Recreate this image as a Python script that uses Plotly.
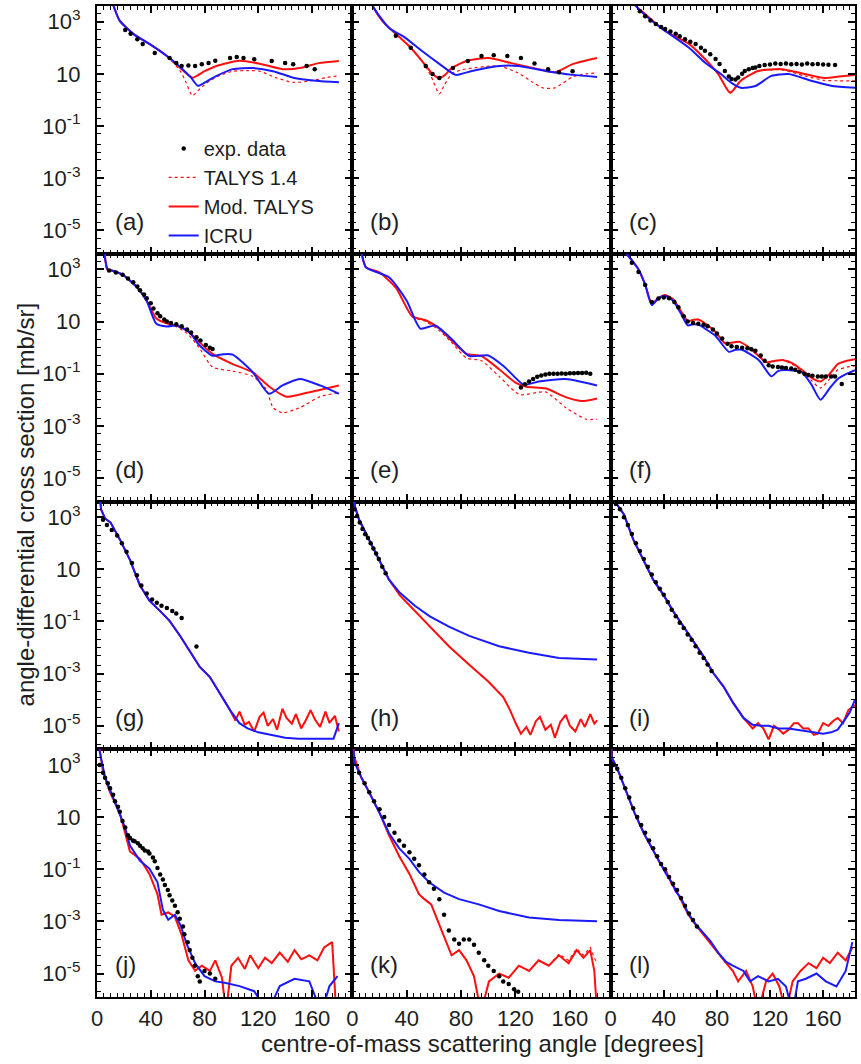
import plotly.graph_objects as go
from plotly.subplots import make_subplots

# Angle-differential elastic cross sections, 12 panels (a)-(l).
# Angles are centre-of-mass scattering angles in degrees, values in mb/sr.

# ---------------- (a) ----------------
A_EXP_X = [21, 25, 30, 34, 43, 54, 59, 63, 68, 73, 78, 83, 88, 99, 104, 109, 117, 130, 140, 146, 156, 162]
A_EXP_Y = [4.8e2, 3.4e2, 2.1e2, 1.4e2, 63, 40, 26, 20, 21, 20, 23, 26, 32, 40, 44, 40, 36, 31, 26, 23, 20, 15]
A_T14_X = [5, 9, 13, 17, 27, 39, 52, 62, 66, 71, 77, 84, 92, 101, 112, 121, 133, 146, 160, 170, 180]
A_T14_Y = [1e5, 1.6e4, 3.2e3, 1.07e3, 3.4e2, 1.4e2, 48, 12.6, 5.0, 1.45, 2.8, 5.4, 8.9, 12.6, 13.2, 12.6, 7.1, 4.7, 5.4, 7.1, 8.3]
A_MOD_X = [5, 9, 13, 17, 27, 39, 52, 62, 71, 80, 89, 106, 121, 138, 151, 165, 180]
A_MOD_Y = [1e5, 1.6e4, 3.2e3, 1.07e3, 3.4e2, 1.4e2, 48, 16.6, 7.1, 12.6, 20, 31.6, 24.5, 15.1, 16.6, 25.7, 30.9]
A_ICRU_X = [5, 9, 13, 17, 27, 39, 52, 62, 70, 75, 82, 89, 101, 116, 131, 146, 163, 180]
A_ICRU_Y = [1e5, 1.6e4, 3.2e3, 1.07e3, 3.4e2, 1.4e2, 48, 17.8, 7.1, 3.47, 5.25, 8.3, 15.1, 16.6, 12.6, 7.1, 5.4, 4.7]

# ---------------- (b) ----------------
B_EXP_X = [32, 43, 54, 59, 64, 74, 85, 95, 104, 114, 124, 134, 144, 152, 162]
B_EXP_Y = [2.9e2, 1.0e2, 20, 9.8, 6.9, 16.6, 31, 48, 52, 48, 40, 25, 15, 11.5, 12.6]
B_T14_X = [5, 10, 15, 22, 32, 43, 53, 58, 64, 68, 73, 80, 88, 98, 108, 122, 132, 140, 149, 162, 172, 180]
B_T14_Y = [1e5, 2e4, 4e3, 1.07e3, 3.4e2, 1e2, 22, 7.9, 1.7, 4.0, 9.8, 14.1, 16.6, 19, 20, 10.7, 5.0, 2.9, 2.9, 7.6, 10, 10.7]
B_MOD_X = [5, 10, 15, 22, 32, 43, 53, 59, 64, 68, 73, 84, 100, 117, 137, 149, 162, 180]
B_MOD_Y = [1e5, 2e4, 4e3, 1.07e3, 3.4e2, 1e2, 24, 9.8, 6.9, 8.9, 16.6, 31, 40, 25.7, 15.1, 11.5, 23.4, 40]
B_ICRU_X = [5, 10, 15, 27, 39, 51, 64, 76, 88, 108, 122, 142, 162, 180]
B_ICRU_Y = [1e5, 2e4, 4e3, 5.75e2, 2.4e2, 76, 24, 9.1, 12.9, 20, 20, 12.9, 9.1, 7.6]

# ---------------- (c) ----------------
C_EXP_X = [22, 26, 30, 34, 38, 41, 45, 49, 52, 56, 60, 64, 68, 71, 75, 79, 82, 86, 89, 91, 94,
           96, 99, 101, 104, 107, 109, 112, 116, 120, 124, 128, 132, 136, 140, 144, 148, 152,
           156, 160, 164, 169]
C_EXP_Y = [2.5e3, 1.6e3, 1.1e3, 8.1e2, 6.3e2, 5.2e2, 4.2e2, 3.4e2, 2.75e2, 2.1e2, 1.7e2, 1.4e2,
           1e2, 76, 56, 37, 24, 12.9, 7.9, 6.3, 6.0, 7.2, 10, 12.9, 15.1, 16.6, 17.4, 20, 21.9,
           22.9, 25, 24, 25, 23.4, 24, 22.9, 25, 23.4, 24, 22.9, 22.4, 21.9]
C_T14_X = [8, 14, 19, 26, 41, 59, 71, 81, 90, 98, 111, 129, 146, 161, 172, 184]
C_T14_Y = [1e5, 1.26e4, 4e3, 1.95e3, 4.4e2, 1.4e2, 37, 9.8, 2.0, 5.6, 12.6, 14.1, 8.3, 5.6, 5.4, 5.4]
C_MOD_X = [8, 14, 19, 26, 41, 59, 71, 81, 90, 98, 111, 129, 146, 161, 172, 184]
C_MOD_Y = [1e5, 1.26e4, 4e3, 1.95e3, 4.4e2, 1.4e2, 37, 9.8, 1.86, 5.4, 12.9, 15.1, 9.8, 6.9, 7.9, 9.1]
C_ICRU_X = [8, 14, 19, 34, 59, 71, 83, 91, 98, 109, 121, 134, 151, 166, 184]
C_ICRU_Y = [1e5, 1.26e4, 4e3, 8.1e2, 1e2, 27, 9.8, 4.5, 2.9, 3.4, 8.3, 9.8, 5.4, 3.5, 2.9]

# ---------------- (d) ----------------
D_EXP_X = [9, 14, 19, 23, 27, 30, 32, 35, 37, 40, 42, 45, 47, 50, 52, 55, 59, 63, 67, 70, 74, 77, 81, 84, 86]
D_EXP_Y = [9.1e2, 7.6e2, 6.3e2, 4.5e2, 3.2e2, 2.2e2, 1.6e2, 1.1e2, 79, 50, 32, 21, 15.8, 12, 10,
           8.9, 7.9, 6.6, 5.0, 3.8, 2.5, 1.86, 1.26, 1.0, 0.89]
D_T14_X = [2, 5.5, 7.5, 11, 19, 30, 37, 44, 52, 59, 67, 76, 86, 101, 116, 126, 131, 138, 151, 166, 180]
D_T14_Y = [3.2e4, 5e3, 1e3, 9.1e2, 6.3e2, 2e2, 62, 13.5, 8.5, 6.3, 3.55, 1.0, 0.178, 0.126, 0.079,
           0.0251, 5.0e-3, 3.16e-3, 5.0e-3, 0.0132, 0.0186]
D_MOD_X = [2, 5.5, 7.5, 11, 19, 30, 37, 44, 52, 59, 67, 76, 86, 101, 116, 128, 141, 156, 180]
D_MOD_Y = [3.2e4, 5e3, 1e3, 9.1e2, 6.3e2, 2e2, 62, 13.5, 8.5, 7.1, 4.6, 1.66, 0.575, 0.234, 0.112,
           0.0324, 0.0132, 0.0186, 0.0355]
D_ICRU_X = [2, 5, 8, 11, 19, 30, 37, 44, 52, 59, 69, 76, 86, 94, 101, 116, 128, 138, 151, 166, 180]
D_ICRU_Y = [4e4, 5e3, 1e3, 9.1e2, 6.3e2, 2e2, 62, 8.5, 6.5, 7.1, 3.8, 1.26, 0.49, 0.56, 0.54, 0.112,
            0.017, 0.0355, 0.063, 0.0355, 0.017]

# ---------------- (e) ----------------
E_EXP_X = [124, 127, 130, 133, 136, 139, 142, 145, 148, 151, 154, 157, 160, 163, 166, 169, 172, 175]
E_EXP_Y = [0.0295, 0.0398, 0.05, 0.063, 0.076, 0.085, 0.093, 0.1, 0.1, 0.1, 0.102, 0.1, 0.105,
           0.105, 0.107, 0.107, 0.11, 0.1]
E_T14_X = [3, 6.6, 10, 20, 32, 44, 54, 64, 73, 84, 95, 108, 123, 142, 157, 172, 180]
E_T14_Y = [3.2e4, 4.6e3, 1.2e3, 7.6e2, 2e2, 15.8, 10, 4.5, 1.58, 0.398, 0.316, 0.079, 0.0158,
           0.02, 5.0e-3, 1.8e-3, 1.8e-3]
E_MOD_X = [3, 6.6, 10, 20, 32, 44, 54, 64, 73, 84, 95, 108, 120, 128, 142, 157, 169, 180]
E_MOD_Y = [3.2e4, 4.6e3, 1.2e3, 7.6e2, 2e2, 15.8, 11.2, 5.4, 1.86, 0.575, 0.479, 0.148, 0.0457,
           0.0316, 0.0275, 0.0126, 8.9e-3, 0.0112]
E_ICRU_X = [3, 6.6, 10, 27, 40, 50, 61, 73, 86, 100, 112, 126, 137, 157, 180]
E_ICRU_Y = [3.2e4, 4.6e3, 1.2e3, 5e2, 63, 5.4, 7.1, 2.14, 0.479, 0.5, 0.182, 0.038, 0.05, 0.063, 0.0355]

# ---------------- (f) ----------------
F_EXP_X = [16, 21, 26, 31, 36, 40, 44, 48, 51, 55, 58, 62, 66, 70, 73, 77, 80, 84, 88, 91, 95,
           99, 103, 106, 109, 113, 116, 119, 122, 126, 129, 132, 136, 139, 142, 146, 149, 152,
           156, 159, 162, 166, 169, 174]
F_EXP_Y = [1.8e3, 7.9e2, 2.5e2, 56, 76, 83, 79, 56, 35, 15.8, 10, 8.9, 8.3, 7.6, 6.6, 5.0, 3.5,
           2.24, 1.41, 1.12, 1.05, 1.0, 0.95, 0.87, 0.76, 0.5, 0.316, 0.209, 0.19, 0.182, 0.174,
           0.166, 0.158, 0.141, 0.12, 0.1, 0.089, 0.083, 0.079, 0.079, 0.079, 0.079, 0.079, 0.04]
F_T14_X = [5, 10, 16, 21, 26, 31, 36, 41, 47, 53, 58, 62, 66, 72, 79, 86, 92, 97, 103, 110, 117,
           124, 130, 137, 144, 151, 158, 165, 171, 178, 184]
F_T14_Y = [4e4, 5.5e3, 2.24e3, 1e3, 2.6e2, 49, 79, 1.05e2, 71, 25, 10.5, 11.5, 12, 7.9, 4.0, 1.48,
           1.58, 1.66, 1.12, 0.56, 0.28, 0.316, 0.331, 0.224, 0.126, 0.0562, 0.0282, 0.063, 0.141,
           0.178, 0.2]
F_MOD_X = [5, 10, 16, 21, 26, 31, 36, 41, 47, 53, 58, 62, 66, 72, 79, 86, 92, 97, 103, 110, 117,
           124, 130, 137, 144, 151, 158, 165, 171, 178, 184]
F_MOD_Y = [4e4, 5.5e3, 2.24e3, 1e3, 2.6e2, 49, 79, 1.05e2, 71, 25, 10.5, 11.5, 12, 7.9, 4.0, 1.48,
           1.58, 1.66, 1.12, 0.56, 0.28, 0.316, 0.331, 0.251, 0.141, 0.0708, 0.05, 0.1, 0.234,
           0.316, 0.363]
F_ICRU_X = [5, 10, 16, 21, 26, 31, 36, 41, 47, 53, 58, 62, 66, 72, 79, 89, 94, 99, 105, 112, 121,
            126, 131, 138, 144, 151, 158, 165, 171, 178, 184]
F_ICRU_Y = [4e4, 5.5e3, 2.24e3, 1e3, 2.6e2, 43, 79, 95, 63, 20, 7.1, 7.9, 7.6, 5, 2.8, 0.69, 0.83,
            0.83, 0.56, 0.316, 0.079, 0.126, 0.138, 0.132, 0.112, 0.04, 0.01, 0.028, 0.063, 0.1,
            0.138]

# ---------------- (g) ----------------
G_EXP_X = [4.5, 7.4, 11, 15, 18.5, 22, 26, 29.7, 33, 37, 41, 44.5, 48, 52, 56, 59, 63, 74]
G_EXP_Y = [7.9e2, 5e2, 3.2e2, 2e2, 1e2, 47, 17.4, 5.9, 2.4, 1.17, 0.69, 0.52, 0.4, 0.33, 0.25,
           0.2, 0.135, 0.011]
G_MOD_X = [1, 3, 6, 10, 17, 24.5, 32, 39, 47, 54, 62, 69, 76.5, 84, 91, 99, 103, 106, 110, 113,
           117, 121, 124, 127, 131, 134, 138, 141, 145, 148, 152, 155, 159, 162, 166, 170, 173,
           177, 180]
G_MOD_Y = [3.2e4, 2e3, 8.9e2, 6.3e2, 1.4e2, 23, 2.4, 0.63, 0.25, 0.105, 0.027, 6.9e-3, 1.8e-3,
           7.4e-4, 1.9e-4, 4.0e-5, 1.6e-5, 3.5e-5, 1.1e-5, 1.4e-5, 6e-6, 2.2e-5, 3.2e-5, 1.0e-5,
           1.8e-5, 7e-6, 4.5e-5, 2e-5, 1.2e-5, 2.8e-5, 8e-6, 1.5e-5, 4e-5, 1.8e-5, 9e-6, 3.5e-5,
           1.3e-5, 2.4e-5, 6e-6]
# TALYS 1.4 lies on top of the modified calculation in (g)-(j) and (l)
G_T14_X = G_MOD_X
G_T14_Y = G_MOD_Y
G_ICRU_X = [1, 3, 6, 10, 17, 24.5, 32, 39, 47, 54, 62, 69, 76.5, 84, 91, 99, 106, 112, 120, 130,
            140, 150, 160, 170, 176, 180]
G_ICRU_Y = [3.2e4, 2e3, 8.9e2, 6.3e2, 1.4e2, 23, 2.4, 0.63, 0.25, 0.105, 0.027, 6.9e-3, 1.8e-3,
            7.4e-4, 1.9e-4, 4.0e-5, 1.26e-5, 7.9e-6, 5.6e-6, 4.5e-6, 3.5e-6, 3.2e-6, 3.2e-6,
            3.2e-6, 3.2e-6, 1.26e-5]

# ---------------- (h) ----------------
H_EXP_X = [1.5, 3.5, 5.5, 7.5, 9.5, 11.5, 13.5, 15.5, 17.5, 19.5, 22, 24.5]
H_EXP_Y = [2e3, 1.1e3, 6.3e2, 3.5e2, 2.2e2, 1.6e2, 1e2, 63, 40, 25, 12.6, 7.1]
H_MOD_X = [0.5, 2, 5, 12.5, 20, 27, 35, 46, 57, 71, 86, 100, 111, 116, 120, 124, 128, 131, 135,
           138, 142, 146, 149, 153, 157, 160, 164, 168, 171, 175, 178, 180]
H_MOD_Y = [1e4, 2.5e3, 7.9e2, 1.26e2, 22, 4.0, 1.0, 0.25, 0.063, 0.0112, 2.2e-3, 5e-4, 1.26e-4,
           4e-5, 1.3e-5, 5e-6, 9e-6, 4.5e-6, 1.5e-5, 2.2e-5, 7e-6, 1.1e-5, 3.5e-6, 1.4e-5, 2.6e-5,
           1e-5, 6e-6, 1.8e-5, 9e-6, 2.8e-5, 1.2e-5, 1.6e-5]
H_T14_X = H_MOD_X
H_T14_Y = H_MOD_Y
H_ICRU_X = [0.5, 2, 5, 12.5, 20, 27, 35, 46, 57, 71, 86, 108, 130, 152, 180]
H_ICRU_Y = [1e4, 2.5e3, 7.9e2, 1.26e2, 22, 4.0, 1.26, 0.4, 0.158, 0.063, 0.028, 0.0112, 6.3e-3,
            4.0e-3, 3.5e-3]

# ---------------- (i) ----------------
I_EXP_X = [4, 7, 10, 13, 16, 19, 22, 25, 28, 31, 34, 37, 40, 43, 46, 49, 52, 55, 58, 61, 64, 67, 70, 73, 76]
I_EXP_Y = [3.2e3, 2e3, 1e3, 5e2, 2.24e2, 1e2, 50, 25, 12.6, 6.3, 3.2, 1.78, 1.05, 0.56, 0.28,
           0.158, 0.089, 0.056, 0.0316, 0.02, 0.0112, 6.3e-3, 4e-3, 2.24e-3, 1.26e-3]
I_MOD_X = [0.5, 2, 6, 10, 17, 25, 32, 40, 47, 55, 62, 70, 77, 85, 92, 100, 107, 111, 115, 119, 123,
           126, 130, 134, 138, 141, 145, 149, 153, 156, 160, 164, 168, 171, 175, 179, 184]
I_MOD_Y = [1.6e4, 5e3, 2.5e3, 1.26e3, 1.4e2, 22, 4.0, 1.0, 0.25, 0.063, 0.0178, 4.5e-3, 1.1e-3,
           3.2e-4, 7.9e-5, 2e-5, 7.9e-6, 1.26e-5, 7.9e-6, 3e-6, 1e-5, 7.9e-6, 5e-6, 7.1e-6,
           1.26e-5, 1.26e-5, 7.9e-6, 7.9e-6, 4.5e-6, 5e-6, 1.26e-5, 1e-5, 1.6e-5, 2e-5, 1.26e-5,
           4e-5, 6.3e-5]
I_T14_X = I_MOD_X
I_T14_Y = I_MOD_Y
I_ICRU_X = [0.5, 2, 6, 10, 17, 25, 32, 40, 47, 55, 62, 70, 77, 85, 92, 100, 107, 113, 119, 126,
            134, 141, 149, 155, 160, 166, 171, 176, 180, 184]
I_ICRU_Y = [1.6e4, 5e3, 2.5e3, 1.26e3, 1.4e2, 22, 4.0, 1.0, 0.25, 0.063, 0.0178, 4.5e-3, 1.1e-3,
            3.2e-4, 7.9e-5, 2e-5, 1.1e-5, 1e-5, 1e-5, 7.9e-6, 7.9e-6, 7.1e-6, 6.3e-6, 5.6e-6,
            5e-6, 5.6e-6, 7.1e-6, 1.6e-5, 3.2e-5, 1e-4]

# ---------------- (j) ----------------
J_EXP_X = [2, 4.5, 6, 8, 9.7, 12, 13.4, 15.6, 17, 19, 21, 23, 24.5, 26.7, 28, 30.4, 32, 34, 35.6,
           38, 39, 41.6, 43, 45, 47, 49, 50.5, 52.7, 54, 56, 58, 60, 61.6, 64, 65, 67.5, 69, 71,
           72.8, 75, 76.5, 80, 84, 88]
J_EXP_Y = [1e3, 5e2, 3.2e2, 2e2, 1.26e2, 71, 40, 25, 15.8, 7.1, 4.0, 2.0, 1.58, 1.26, 1.17, 1.0,
           0.79, 0.63, 0.52, 0.48, 0.4, 0.28, 0.2, 0.112, 0.063, 0.04, 0.025, 0.0158, 0.01,
           6.3e-3, 4e-3, 2.24e-3, 1.26e-3, 6.3e-4, 3.2e-4, 1.58e-4, 7.9e-5, 4e-5, 2e-5, 7.9e-6,
           5e-6, 1.26e-5, 1e-5, 6.3e-6]
J_MOD_X = [1, 2, 4.5, 9.7, 17, 21, 24.5, 32, 39, 45, 48, 53, 58, 63, 68, 73, 78, 84, 88, 93, 96,
           100, 105, 110, 114, 120, 125, 130, 136, 142, 147, 152, 158, 164, 169, 175, 178, 180]
J_MOD_Y = [3.2e4, 4e3, 5.4e2, 89, 14.5, 2.4, 0.48, 0.25, 0.066, 0.011, 1.8e-3, 2.2e-3, 1.5e-3,
           3e-4, 3.2e-5, 1.26e-5, 2e-5, 1.26e-5, 3.2e-5, 6.9e-6, 3.2e-7, 2e-5, 4e-5, 1.5e-5, 5e-5,
           1.6e-5, 4e-5, 2.5e-5, 6.3e-5, 2.8e-5, 7.9e-5, 3.5e-5, 5e-5, 3.2e-5, 1e-4, 1.6e-4,
           3.2e-7, 3.2e-7]
J_T14_X = J_MOD_X
J_T14_Y = J_MOD_Y
J_ICRU_X = [1, 2, 6, 13.4, 21, 24.5, 32, 39, 45, 49, 53, 58, 62, 67, 73, 80, 88, 95, 106, 117,
            127, 136, 147, 158, 167, 173, 179]
J_ICRU_Y = [3.2e4, 3.2e3, 3.4e2, 35, 3.8, 0.81, 0.21, 0.105, 0.0316, 2.8e-3, 1.15e-3, 1.8e-3,
            7.4e-4, 1.26e-4, 2.5e-5, 7.9e-6, 5e-6, 4.4e-6, 3.3e-6, 2.1e-6, 3.2e-7, 3.3e-6, 6.3e-6,
            5e-6, 3.2e-7, 3.3e-6, 7.9e-6]

# ---------------- (k) ----------------
K_EXP_X = [5, 9, 12.5, 16, 20, 23.5, 27, 31, 34.5, 38, 42, 45.5, 49, 53, 56.5, 60, 64, 67.5, 71,
           75, 78.5, 82, 86, 89.5, 93, 97, 100, 104, 108, 111, 115, 119, 122]
K_EXP_Y = [5e2, 2e2, 89, 40, 20, 10, 5.0, 2.5, 1.26, 0.79, 0.45, 0.25, 0.141, 0.063, 0.0316,
           0.0178, 7.1e-3, 1.8e-3, 4.5e-4, 2e-4, 1.4e-4, 2e-4, 2e-4, 1.26e-4, 6.3e-5, 3.2e-5,
           2e-5, 1.26e-5, 7.9e-6, 5e-6, 4e-6, 2.5e-6, 2e-6]
K_T14_X = [0.5, 1.5, 6.6, 12.5, 20, 27, 34.5, 42, 49, 53, 58, 64, 69, 73, 78.5, 84, 89.5, 94.6,
           100.5, 108, 115, 122.5, 130, 137, 144.5, 152, 159, 165, 170, 175, 178, 180]
K_T14_Y = [1e4, 2e3, 3.2e2, 89, 14.5, 2.0, 0.316, 0.066, 0.011, 7.1e-3, 4.5e-3, 7.4e-4, 1.45e-4,
           5e-5, 7.9e-5, 3.2e-5, 7.9e-6, 3.2e-7, 5e-6, 1e-5, 6.9e-6, 2e-5, 1.26e-5, 3.2e-5, 2e-5,
           5.6e-5, 3.2e-5, 8.9e-5, 5e-5, 1e-4, 4e-5, 2.5e-5]
K_MOD_X = [0.5, 1.5, 6.6, 12.5, 20, 27, 34.5, 42, 49, 53, 58, 64, 69, 73, 78.5, 84, 89.5, 94.6,
           100.5, 108, 115, 122.5, 130, 137, 144.5, 152, 159, 165, 170, 175, 178, 180]
K_MOD_Y = [1e4, 2e3, 3.2e2, 89, 14.5, 2.0, 0.316, 0.066, 0.011, 7.1e-3, 4.5e-3, 7.4e-4, 1.45e-4,
           5e-5, 7.9e-5, 3.2e-5, 7.9e-6, 3.2e-7, 5e-6, 1e-5, 6.9e-6, 2e-5, 1.26e-5, 3.2e-5, 2e-5,
           5e-5, 2.5e-5, 7.9e-5, 4e-5, 7.9e-5, 1.26e-5, 3.2e-7]
K_ICRU_X = [0.5, 1.5, 6.6, 12.5, 20, 27, 34.5, 42, 49, 56.5, 67.5, 78.5, 93, 108, 130, 152, 180]
K_ICRU_Y = [6.3e3, 1.26e3, 3.4e2, 89, 14.5, 2.4, 0.63, 0.25, 0.079, 0.0316, 0.0126, 7.1e-3,
            4.5e-3, 2.5e-3, 1.4e-3, 1.12e-3, 1e-3]

# ---------------- (l) ----------------
L_EXP_X = [2, 5, 8, 11, 14, 17, 20, 23, 26, 29, 32, 35, 38, 41, 44, 47, 50, 53, 56, 59, 62, 65]
L_EXP_Y = [1e3, 7.1e2, 3.2e2, 1.26e2, 56, 22, 10, 5, 2.5, 1.26, 0.63, 0.316, 0.158, 0.1, 0.05,
           0.028, 0.0158, 7.9e-3, 4e-3, 2e-3, 1.12e-3, 6.3e-4]
L_MOD_X = [0.3, 0.75, 6, 12, 18, 25, 32.3, 37.5, 42, 46, 49, 53, 58.5, 64, 70, 75, 81, 87, 92, 96,
           102, 107, 111, 117, 122, 127, 132, 137, 143, 149, 155, 160, 165, 171, 177, 182]
L_MOD_Y = [1e4, 2e3, 5.4e2, 89, 14.5, 2.4, 0.48, 0.158, 0.079, 0.027, 0.017, 6.9e-3, 1.8e-3,
           7.4e-4, 3e-4, 1.45e-4, 5.9e-5, 2.5e-5, 1.26e-5, 5e-6, 1.26e-5, 3.2e-6, 3.2e-7, 5e-6,
           1e-5, 3.2e-6, 3.2e-7, 5e-6, 1.26e-5, 2.5e-5, 1.6e-5, 4e-5, 2.5e-5, 6.3e-5, 3.2e-5, 1e-4]
L_T14_X = L_MOD_X
L_T14_Y = L_MOD_Y
L_ICRU_X = [0.3, 0.75, 6, 12, 18, 25, 32.3, 37.5, 42, 46, 49, 53, 58.5, 64, 70, 75, 81, 87, 92,
            100, 105, 111, 119, 126, 132, 137, 141, 147, 155, 162, 170, 177, 182]
L_ICRU_Y = [1e4, 2e3, 5.4e2, 89, 14.5, 2.4, 0.48, 0.158, 0.063, 0.0316, 0.0141, 7.9e-3, 2e-3,
            7.9e-4, 3.5e-4, 1.8e-4, 6.3e-5, 2.8e-5, 2e-5, 1.26e-5, 5e-6, 7.9e-6, 5e-6, 6.3e-6,
            3.2e-6, 3.2e-7, 5e-6, 6.3e-6, 1e-5, 5e-6, 3.2e-6, 1.26e-5, 1.6e-4]

# Panel letters, laid out row by row
PANEL_LETTERS = ["a", "b", "c", "d", "e", "f", "g", "h", "i", "j", "k", "l"]
SERIES_NAMES = ["exp. data", "TALYS 1.4", "Mod. TALYS", "ICRU"]
X_TICKS = [0, 40, 80, 120, 160]
Y_EXPONENTS = [-5, -3, -1, 1, 3]

PANELS = [
    (A_EXP_X, A_EXP_Y, A_T14_X, A_T14_Y, A_MOD_X, A_MOD_Y, A_ICRU_X, A_ICRU_Y),
    (B_EXP_X, B_EXP_Y, B_T14_X, B_T14_Y, B_MOD_X, B_MOD_Y, B_ICRU_X, B_ICRU_Y),
    (C_EXP_X, C_EXP_Y, C_T14_X, C_T14_Y, C_MOD_X, C_MOD_Y, C_ICRU_X, C_ICRU_Y),
    (D_EXP_X, D_EXP_Y, D_T14_X, D_T14_Y, D_MOD_X, D_MOD_Y, D_ICRU_X, D_ICRU_Y),
    (E_EXP_X, E_EXP_Y, E_T14_X, E_T14_Y, E_MOD_X, E_MOD_Y, E_ICRU_X, E_ICRU_Y),
    (F_EXP_X, F_EXP_Y, F_T14_X, F_T14_Y, F_MOD_X, F_MOD_Y, F_ICRU_X, F_ICRU_Y),
    (G_EXP_X, G_EXP_Y, G_T14_X, G_T14_Y, G_MOD_X, G_MOD_Y, G_ICRU_X, G_ICRU_Y),
    (H_EXP_X, H_EXP_Y, H_T14_X, H_T14_Y, H_MOD_X, H_MOD_Y, H_ICRU_X, H_ICRU_Y),
    (I_EXP_X, I_EXP_Y, I_T14_X, I_T14_Y, I_MOD_X, I_MOD_Y, I_ICRU_X, I_ICRU_Y),
    (J_EXP_X, J_EXP_Y, J_T14_X, J_T14_Y, J_MOD_X, J_MOD_Y, J_ICRU_X, J_ICRU_Y),
    (K_EXP_X, K_EXP_Y, K_T14_X, K_T14_Y, K_MOD_X, K_MOD_Y, K_ICRU_X, K_ICRU_Y),
    (L_EXP_X, L_EXP_Y, L_T14_X, L_T14_Y, L_MOD_X, L_MOD_Y, L_ICRU_X, L_ICRU_Y),
]

FONT = "Liberation Sans, Arial, Helvetica, sans-serif"
INK = "#1e1e1e"
RED = "#ff1010"
BLUE = "#1a1aff"

# column pixel widths (the right-hand column is narrower)
COL_WIDTHS = [256, 259, 245]
COL_XMAX = [190, 190, 184]

fig = make_subplots(rows=4, cols=3, column_widths=COL_WIDTHS,
                    horizontal_spacing=0, vertical_spacing=0)

y_vals = [10.0 ** e for e in Y_EXPONENTS]
y_text = ["10" if e == 1 else "10<sup>%d</sup>" % e for e in Y_EXPONENTS]
# minor ticks: every unlabelled decade plus 2x and 5x subdivisions
y_minor = [m * 10.0 ** e for e in range(-6, 4) for m in (1, 2, 5) if not (m == 1 and e in Y_EXPONENTS)]

for idx, (ex, ey, tx, ty, mx, my, ix, iy) in enumerate(PANELS):
    row, col = idx // 3 + 1, idx % 3 + 1
    first = idx == 0
    # smooth model curves in the upper rows, point-to-point in the noisy lower rows
    shape = "spline" if row <= 2 else "linear"
    fig.add_trace(go.Scatter(x=tx, y=ty, mode="lines", name=SERIES_NAMES[1],
                             line=dict(color=RED, width=1.2, dash="dot", shape=shape, smoothing=0.6),
                             showlegend=first, legendrank=2, hoverinfo="skip"), row=row, col=col)
    fig.add_trace(go.Scatter(x=mx, y=my, mode="lines", name=SERIES_NAMES[2],
                             line=dict(color=RED, width=2, shape=shape, smoothing=0.6),
                             showlegend=first, legendrank=3, hoverinfo="skip"), row=row, col=col)
    fig.add_trace(go.Scatter(x=ix, y=iy, mode="lines", name=SERIES_NAMES[3],
                             line=dict(color=BLUE, width=2, shape=shape, smoothing=0.6),
                             showlegend=first, legendrank=4, hoverinfo="skip"), row=row, col=col)
    fig.add_trace(go.Scatter(x=ex, y=ey, mode="markers", name=SERIES_NAMES[0],
                             marker=dict(color="black", size=4.5),
                             showlegend=first, legendrank=1, hoverinfo="skip"), row=row, col=col)

    fig.update_xaxes(row=row, col=col, range=[0, COL_XMAX[col - 1]],
                     tickmode="array", tickvals=X_TICKS,
                     ticktext=[str(v) for v in X_TICKS],
                     showticklabels=(row == 4),
                     ticks="inside", ticklen=7, tickwidth=1.5, tickcolor="black",
                     minor=dict(tickmode="linear", tick0=0, dtick=5, ticks="inside",
                                ticklen=4, tickwidth=1, tickcolor="black"),
                     showline=True, linewidth=2.2, linecolor="black", mirror="ticks",
                     showgrid=False, zeroline=False,
                     tickfont=dict(family=FONT, size=22, color=INK))

    fig.update_yaxes(row=row, col=col, type="log", range=[-5.9, 3.6],
                     tickmode="array", tickvals=y_vals, ticktext=y_text,
                     showticklabels=(col == 1), ticklabelstandoff=10,
                     ticks="inside", ticklen=7, tickwidth=1.5, tickcolor="black",
                     minor=dict(tickmode="array", tickvals=y_minor, ticks="inside",
                                ticklen=4, tickwidth=1, tickcolor="black"),
                     showline=True, linewidth=2.2, linecolor="black", mirror="ticks",
                     showgrid=False, zeroline=False,
                     tickfont=dict(family=FONT, size=22, color=INK))

    axis_no = "" if idx == 0 else str(idx + 1)
    fig.add_annotation(text="(%s)" % PANEL_LETTERS[idx],
                       xref="x%s domain" % axis_no, yref="y%s domain" % axis_no,
                       x=16.0 / COL_WIDTHS[col - 1], y=0.13, xanchor="left", yanchor="middle",
                       showarrow=False, font=dict(family=FONT, size=24, color=INK))

fig.add_annotation(text="centre-of-mass scattering angle [degrees]",
                   xref="paper", yref="paper", x=0.508, y=-0.047,
                   xanchor="center", yanchor="middle", showarrow=False,
                   font=dict(family=FONT, size=24, color=INK))
fig.add_annotation(text="angle-differential cross section [mb/sr]",
                   xref="paper", yref="paper", x=-0.095, y=0.497, textangle=-90,
                   xanchor="center", yanchor="middle", showarrow=False,
                   font=dict(family=FONT, size=24, color=INK))

fig.update_layout(
    width=861, height=1064,
    margin=dict(l=97, r=4, t=5, b=67),
    paper_bgcolor="white", plot_bgcolor="white",
    font=dict(family=FONT, color=INK),
    legend=dict(x=0.088, y=0.876, xanchor="left", yanchor="top",
                bgcolor="rgba(0,0,0,0)", borderwidth=0,
                font=dict(family=FONT, size=20, color=INK),
                itemwidth=30, tracegroupgap=0),
)

fig.write_html("out.html")
